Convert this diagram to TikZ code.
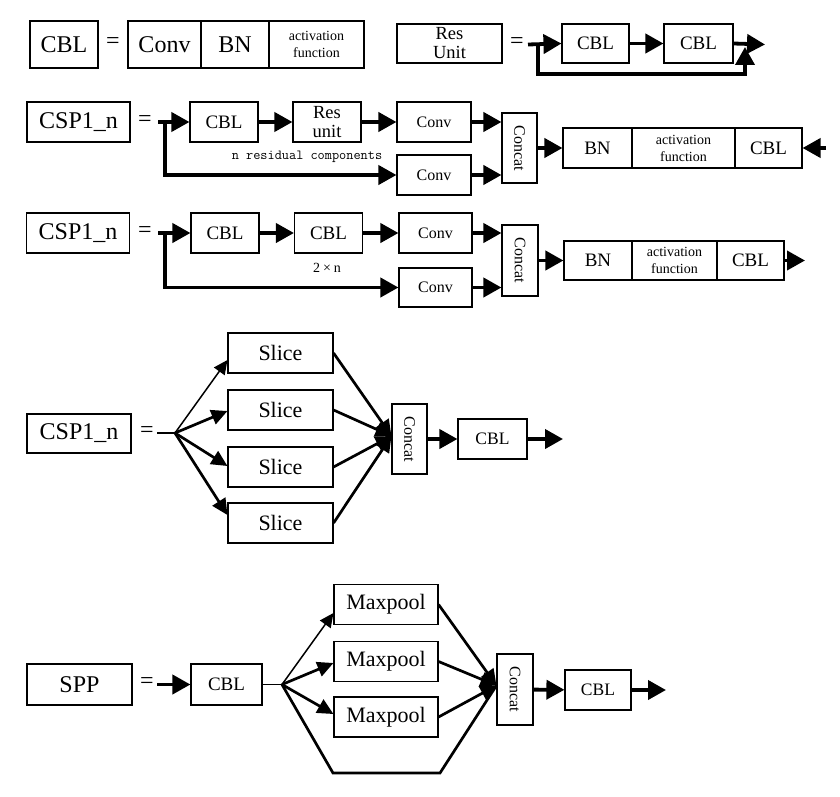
\documentclass[tikz,border=0pt]{standalone}
\usepackage{fontspec}
\setmainfont{Liberation Serif}
\usetikzlibrary{arrows.meta}
\begin{document}
\begin{tikzpicture}[x=1pt,y=-1pt,
  bx/.style 2 args={draw, line width=1.1pt, inner sep=0pt, minimum width=#1pt, minimum height=#2pt, align=center},
  big/.style={font=\fontsize{24}{26}\selectfont},
  md/.style={font=\fontsize{19}{22}\selectfont},
  rs/.style={font=\fontsize{18.5}{19}\selectfont},
  mds/.style={font=\fontsize{17.5}{20}\selectfont},
  cv/.style={font=\fontsize{16}{18}\selectfont},
  sm/.style={font=\fontsize{14}{17}\selectfont},
  sl/.style={font=\fontsize{22}{24}\selectfont},
  tarr/.style={line width=3.8pt, -{Triangle[length=18pt,width=19pt]}},
  marr/.style={line width=2.7pt, -{Triangle[length=16pt,width=15pt]}},
  narr/.style={line width=1.5pt, -{Triangle[length=14pt,width=13pt]}},
  thinl/.style={line width=1.5pt},
]
\useasboundingbox (0,0) rectangle (840,797);

% ---------- Row 1 ----------
\node[bx={68}{47}, big] (cbl0) at (64,44.5) {CBL};
\node[big] (eq1) at (113,43) {=};
\node[bx={73}{47}, big] (conv0) at (164.5,44.5) {Conv};
\node[bx={68}{47}, big] (bn0) at (235,44.5) {BN};
\node[bx={95}{47}, sm] (act0) at (316.5,44.5) {activation\\function};

\node[bx={105}{39}, rs] (res0) at (449.5,43.5) {Res\\Unit};
\node[big] (eq2) at (517,43) {=};
\node[bx={67}{39}, md] (rcbl1) at (595.5,43.5) {CBL};
\node[bx={69}{39}, md] (rcbl2) at (698.5,43.5) {CBL};
\coordinate (rin) at (528,44.5);
\coordinate (rsp) at (538,44.5);
\coordinate (rc1) at (538,74);
\coordinate (rc2) at (745,74);
\coordinate (rret) at (745,47);
\coordinate (rout) at (765,44.5);
\draw[tarr] (rin) -- (rcbl1.west);
\draw[tarr] (rcbl1.east) -- (rcbl2.west);
\draw[tarr] (rcbl2.east) -- (rout);
\draw[tarr] (rsp) -- (rc1) -- (rc2) -- (rret);

% ---------- Row 2 ----------
\node[bx={103}{40}, big] (csp1) at (78.5,122) {CSP1\_n};
\node[big] (eq3) at (145,121) {=};
\coordinate (ain) at (158,122);
\coordinate (asp) at (165,122);
\coordinate (adn) at (165,175);
\node[bx={68}{40}, md] (acbl) at (224,122) {CBL};
\node[bx={68}{40}, rs] (ares) at (327,122) {Res\\unit};
\node[bx={74}{40}, cv] (aconv1) at (434,122) {Conv};
\node[bx={74}{40}, cv] (aconv2) at (434,175) {Conv};
\node[font=\ttfamily\fontsize{13.9}{15}\selectfont] (alab) at (307,157) {n residual components};
\node[bx={35}{70}] (acat) at (519.5,148) {};
\node[cv, rotate=-90] (acatt) at (acat) {Concat};
\node[bx={69}{40}, md] (abn) at (597.5,148) {BN};
\node[bx={103}{40}, sm] (aact) at (683.5,148) {activation\\function};
\node[bx={67}{40}, md] (acbl2) at (768.5,148) {CBL};
\coordinate (ar) at (826,148);
\draw[tarr] (ain) -- (acbl.west);
\draw[tarr] (acbl) -- (ares);
\draw[tarr] (ares) -- (aconv1);
\draw[tarr] (asp) -- (adn) -- (aconv2.west);
\draw[tarr] (aconv1.east) -- (acat.west |- aconv1.east);
\draw[tarr] (aconv2.east) -- (acat.west |- aconv2.east);
\draw[tarr] (acat) -- (abn);
\draw[tarr] (ar) -- (acbl2.east);

% ---------- Row 3 ----------
\node[bx={103}{40}, big] (csp2) at (78,233) {CSP1\_n};
\node[big] (eq4) at (145,232) {=};
\coordinate (bin) at (158,233);
\coordinate (bsp) at (165,233);
\coordinate (bdn) at (165,287.5);
\node[bx={68}{40}, md] (bcbl1) at (225,233) {CBL};
\node[bx={68}{40}, md] (bcbl2) at (328.5,233) {CBL};
\node[font=\fontsize{14}{16}\selectfont] (blab) at (327,268) {2\kern3pt×\kern3pt n};
\node[bx={73}{40}, cv] (bconv1) at (435.5,233) {Conv};
\node[bx={73}{39}, cv] (bconv2) at (435.5,287.5) {Conv};
\node[bx={36}{71}] (bcat) at (520,260.5) {};
\node[cv, rotate=-90] (bcatt) at (bcat) {Concat};
\node[bx={68}{39}, md] (bbn) at (598,260.5) {BN};
\node[bx={85}{39}, sm] (bact) at (674.5,260.5) {activation\\function};
\node[bx={67}{39}, md] (bcbl3) at (750.5,260.5) {CBL};
\coordinate (bout) at (805,260.5);
\draw[tarr] (bin) -- (bcbl1.west);
\draw[tarr] (bcbl1) -- (bcbl2);
\draw[tarr] (bcbl2) -- (bconv1);
\draw[tarr] (bsp) -- (bdn) -- (bconv2.west);
\draw[tarr] (bconv1.east) -- (bcat.west |- bconv1.east);
\draw[tarr] (bconv2.east) -- (bcat.west |- bconv2.east);
\draw[tarr] (bcat) -- (bbn);
\draw[tarr] (bcbl3.east) -- (bout);

% ---------- Row 4 ----------
\node[bx={104}{39}, big] (fcsp) at (79,433.5) {CSP1\_n};
\node[big] (eq5) at (147,432) {=};
\coordinate (fin) at (157,433);
\coordinate (fo) at (175,433);
\node[bx={105}{40}, sl] (fs1) at (280.5,353) {Slice};
\node[bx={105}{40}, sl] (fs2) at (280.5,410) {Slice};
\node[bx={105}{40}, sl] (fs3) at (280.5,467) {Slice};
\node[bx={105}{40}, sl] (fs4) at (280.5,523) {Slice};
\node[bx={35}{70}] (fcat) at (409.5,439) {};
\node[cv, rotate=-90] (fcatt) at (fcat) {Concat};
\node[bx={69}{40}, mds] (fcbl) at (492.5,439) {CBL};
\coordinate (fout) at (563,439);
\draw[thinl] (fin) -- (fo);
\draw[narr] (fo) -- ([yshift=-7pt]fs1.west);
\draw[marr] (fo) -- ([yshift=-1pt]fs2.west);
\draw[marr] (fo) -- ([yshift=1pt]fs3.west);
\draw[marr] (fo) -- ([yshift=8pt]fs4.west);
\draw[marr] (fs1.east) -- ([yshift=3pt]fcat.west);
\draw[marr] (fs2.east) -- ([yshift=3pt]fcat.west);
\draw[marr] (fs3.east) -- ([yshift=3pt]fcat.west);
\draw[marr] (fs4.east) -- ([yshift=3pt]fcat.west);
\draw[tarr] (fcat) -- (fcbl);
\draw[tarr] (fcbl.east) -- (fout);

% ---------- Row 5 (SPP) ----------
\node[bx={105}{41}, big] (sspp) at (79.5,684.5) {SPP};
\node[big] (eq6) at (147,683) {=};
\coordinate (sin) at (157,684.5);
\node[bx={71}{41}, md] (scbl) at (226.5,684.5) {CBL};
\coordinate (so) at (282,684.5);
\node[bx={104}{40}, sl] (sm1) at (386,604.5) {Maxpool};
\node[bx={104}{40}, sl] (sm2) at (386,661.5) {Maxpool};
\node[bx={104}{40}, sl] (sm3) at (386,717) {Maxpool};
\coordinate (sb1) at (333,773);
\coordinate (sb2) at (440,773);
\node[bx={36}{71}] (scat) at (515,689.5) {};
\node[cv, rotate=-90] (scatt) at (scat) {Concat};
\node[bx={66}{40}, mds] (scbl2) at (598,690) {CBL};
\coordinate (sout) at (666,690);
\draw[tarr] (sin) -- (scbl);
\draw[thinl] (scbl.east) -- (so);
\draw[narr] (so) -- ([yshift=-8.5pt]sm1.west);
\draw[marr] (so) -- ([yshift=-1.5pt]sm2.west);
\draw[marr] (so) -- ([yshift=3pt]sm3.west);
\draw[line width=2.7pt] (so) -- (sb1) -- (sb2) -- ([yshift=4pt]scat.west);
\draw[marr] (sm1.east) -- ([yshift=4pt]scat.west);
\draw[marr] (sm2.east) -- ([yshift=4pt]scat.west);
\draw[marr] (sm3.east) -- ([yshift=4pt]scat.west);
\draw[tarr] (scat) -- (scbl2);
\draw[tarr] (scbl2.east) -- (sout);
\end{tikzpicture}
\end{document}
